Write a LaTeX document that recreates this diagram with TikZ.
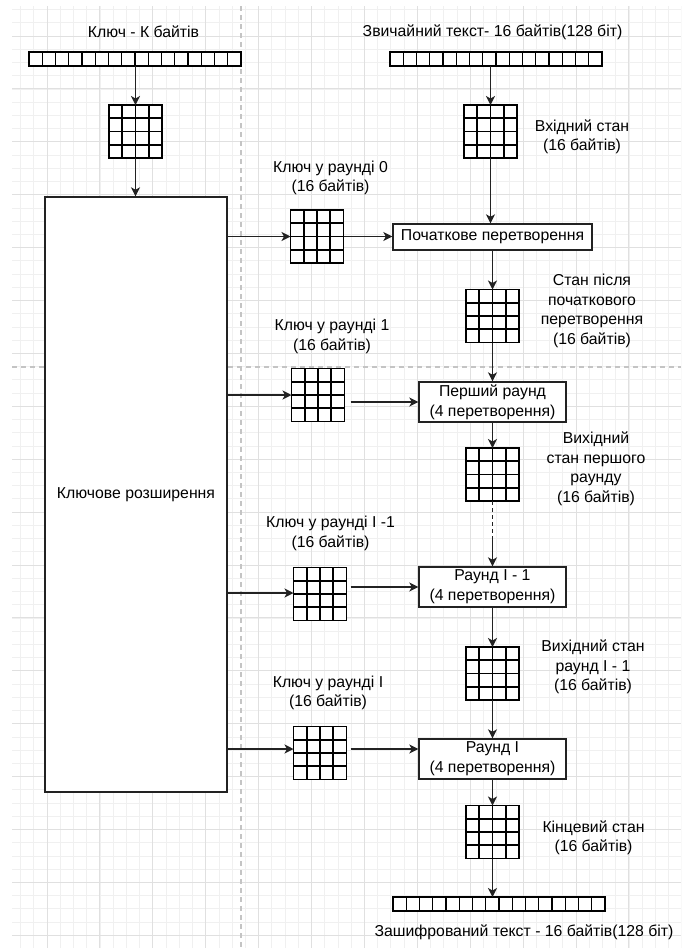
\documentclass[tikz,border=0pt]{standalone}
\usepackage{fontspec}
\setmainfont{Liberation Sans}
\usetikzlibrary{arrows.meta,calc}
\definecolor{gminor}{HTML}{F0F0F0}
\definecolor{gmajor}{HTML}{E0E0E0}
\definecolor{sep}{HTML}{C4C4C4}
\definecolor{ink}{HTML}{222222}
\tikzset{
  arr/.style={-{Stealth[length=9pt,width=9pt,inset=2.5pt]}, line width=1.2pt, draw=ink},
  box/.style={draw=ink, line width=1.4pt, fill=white, align=center, inner sep=0pt,
    font=\fontsize{15.8}{20}\selectfont},
  lbl/.style={align=center, inner sep=0pt, font=\fontsize{15.8}{19.5}\selectfont},
  st/.style={draw=black, fill=white, line width=1.6pt, minimum width=53pt, minimum height=53pt,
    inner sep=0pt, outer sep=0pt,
    path picture={\foreach \i in {1,2,3}{
      \draw[line width=1.6pt] ([xshift=\i*13.25pt]path picture bounding box.north west) -- ([xshift=\i*13.25pt]path picture bounding box.south west);
      \draw[line width=1.6pt] ([yshift=-\i*13.25pt]path picture bounding box.north west) -- ([yshift=-\i*13.25pt]path picture bounding box.north east);}}},
  strip/.style={draw=black, fill=white, line width=1.3pt, minimum width=212pt, minimum height=14pt,
    inner sep=0pt, outer sep=0pt,
    path picture={\foreach \i in {1,...,15}{
      \draw[line width=1.3pt] ([xshift=\i*13.25pt]path picture bounding box.north west) -- ([xshift=\i*13.25pt]path picture bounding box.south west);}}}
}
\begin{document}
\begin{tikzpicture}[x=1pt,y=-1pt]
\useasboundingbox[fill=white] (0,0) rectangle (681,948);
% background grid
\begin{scope}
\clip (12,6) rectangle (681,948);
\foreach \k in {-3,...,48} \draw[gminor, line width=0.8pt] ({47+13.225*\k},0) -- ({47+13.225*\k},948);
\foreach \k in {-3,...,70} \draw[gminor, line width=0.8pt] (0,{36+13.225*\k}) -- (681,{36+13.225*\k});
\foreach \k in {0,...,12} \draw[gmajor, line width=0.9pt] ({47+52.9*\k},0) -- ({47+52.9*\k},948);
\foreach \k in {0,...,17} \draw[gmajor, line width=0.9pt] (0,{36+52.9*\k}) -- (681,{36+52.9*\k});
\end{scope}
\draw[sep, line width=1.3pt, dash pattern=on 5pt off 4pt] (241,6) -- (241,948);
\draw[sep, line width=1.3pt, dash pattern=on 5pt off 4pt] (12,367) -- (681,367);

% left column
\node[lbl] (tkey) at (143.5,32) {Ключ - К байтів};
\node[strip] (ks) at (135,59) {};
\node[st] (kg) at (135.5,131.5) {};
\node[box, minimum width=182pt, minimum height=595pt] (kx) at (136,494.5) {Ключове розширення};

% right column
\node[lbl] (tplain) at (492.5,32) {Звичайний текст- 16 байтів(128 біт)};
\node[strip] (ps) at (496,59) {};
\node[st] (gin) at (490.5,131.5) {};
\node[lbl] (lin) at (582,137) {Вхідний стан\\(16 байтів)};
\node[box, minimum width=199pt, minimum height=26pt] (p0) at (492.5,237) {Початкове перетворення};
\node[st] (g0) at (492.5,316) {};
\node[lbl] (l0) at (592,311) {Стан після\\початкового\\перетворення\\(16 байтів)};
\node[box, minimum width=147pt, minimum height=40pt] (r1) at (492.5,402) {Перший раунд\\(4 перетворення)};
\node[st] (g1) at (492.5,474.5) {};
\node[lbl] (l1) at (596,469) {Вихідний\\стан першого\\раунду\\(16 байтів)};
\node[box, minimum width=147pt, minimum height=40pt] (rl1) at (492.5,587) {Раунд І - 1\\(4 перетворення)};
\node[st] (g2) at (492.5,673.5) {};
\node[lbl] (l2) at (593,667) {Вихідний стан\\раунд І - 1\\(16 байтів)};
\node[box, minimum width=147pt, minimum height=40pt] (rl) at (492.5,759) {Раунд І\\(4 перетворення)};
\node[st] (gf) at (492.5,832) {};
\node[lbl] (lf) at (593.5,838) {Кінцевий стан\\(16 байтів)};
\node[strip] (cs) at (499,904) {};
\node[lbl] (tcipher) at (524,932) {Зашифрований текст - 16 байтів(128 біт)};

% round keys
\node[lbl] (lk0) at (330.5,178) {Ключ у раунді 0\\(16 байтів)};
\node[st] (k0) at (317,236.5) {};
\node[lbl] (lk1) at (332,336.5) {Ключ у раунді 1\\(16 байтів)};
\node[st] (k1) at (318,395) {};
\node[lbl] (lk2) at (330.5,533.5) {Ключ у раунді І -1\\(16 байтів)};
\node[st] (k2) at (320,594) {};
\node[lbl] (lk3) at (328,693) {Ключ у раунді І\\(16 байтів)};
\node[st] (k3) at (320,753) {};

% connectors
\draw[arr] (ks.south -| kg.north) -- (kg.north);
\draw[arr] (kg.south) -- (kg.south |- kx.north);
\draw[arr] (gin.north |- ps.south) -- (gin.north);
\draw[arr] (gin.south) -- (gin.south |- p0.north);
\draw[arr] (g0.north |- p0.south) -- (g0.north);
\draw[arr] (g0.south) -- (g0.south |- r1.north);
\draw[arr] (g1.north |- r1.south) -- (g1.north);
\coordinate (mid) at ($(g1.south)+(0,38)$);
\draw[ink, line width=1.2pt, dash pattern=on 4pt off 3pt] (g1.south) -- (mid);
\draw[arr] (mid) -- (mid |- rl1.north);
\draw[arr] (g2.north |- rl1.south) -- (g2.north);
\draw[arr] (g2.south) -- (g2.south |- rl.north);
\draw[arr] (gf.north |- rl.south) -- (gf.north);
\draw[arr] (gf.south) -- (gf.south |- cs.north);

\draw[arr] (kx.east |- k0.west) -- (k0.west);
\draw[arr] (k0.east) -- (k0.east -| p0.west);
\draw[arr] (kx.east |- k1.west) -- (k1.west);
\draw[arr] ([xshift=6pt]k1.east |- r1.west) -- (r1.west);
\draw[arr] (kx.east |- 0,593) -- (k2.west |- 0,593);
\draw[arr] ([xshift=4pt]k2.east |- rl1.west) -- (rl1.west);
\coordinate (y3) at (0,749);
\draw[arr] (kx.east |- y3) -- (k3.west |- y3);
\draw[arr] ([xshift=4pt]k3.east |- y3) -- (rl.west |- y3);
\end{tikzpicture}
\end{document}
